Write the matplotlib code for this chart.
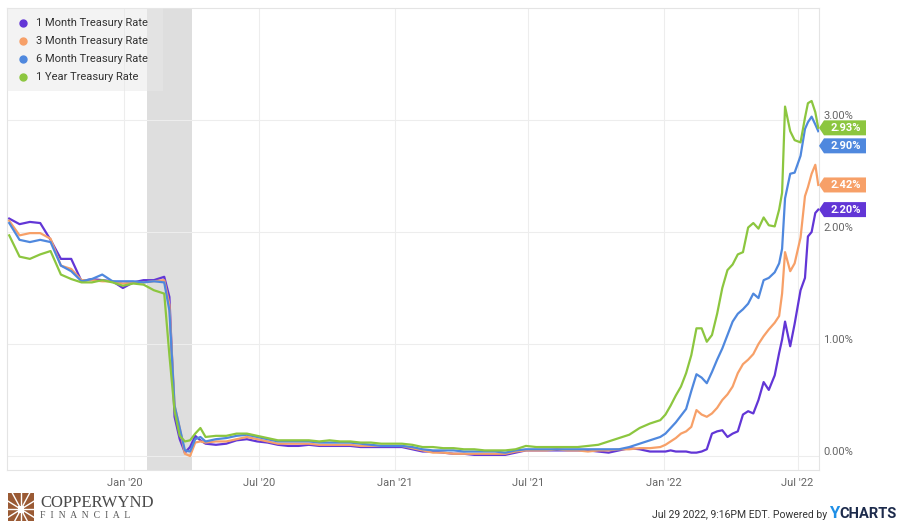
import matplotlib
matplotlib.use("Agg")
import matplotlib.pyplot as plt
from matplotlib.patches import Rectangle, Polygon
from matplotlib.transforms import blended_transform_factory, ScaledTranslation
import pandas as pd
import numpy as np

plt.rcParams['font.family'] = ['Roboto', 'DejaVu Sans']

# ---------------------------------------------------------------- data
dates = [
    "2019-07-29", "2019-08-12", "2019-08-26", "2019-09-09", "2019-09-23", "2019-10-07",
    "2019-10-21", "2019-11-04", "2019-11-18", "2019-12-02", "2019-12-16", "2019-12-30",
    "2020-01-13", "2020-01-27", "2020-02-10", "2020-02-24", "2020-03-02", "2020-03-09",
    "2020-03-16", "2020-03-23", "2020-03-30", "2020-04-06", "2020-04-13", "2020-04-20",
    "2020-05-04", "2020-05-18", "2020-06-01", "2020-06-15", "2020-06-29", "2020-07-13",
    "2020-07-27", "2020-08-10", "2020-08-24", "2020-09-07", "2020-09-21", "2020-10-05",
    "2020-10-19", "2020-11-02", "2020-11-16", "2020-11-30", "2020-12-14", "2020-12-28",
    "2021-01-11", "2021-01-25", "2021-02-08", "2021-02-22", "2021-03-08", "2021-03-22",
    "2021-04-05", "2021-04-19", "2021-05-03", "2021-05-17", "2021-05-31", "2021-06-14",
    "2021-06-28", "2021-07-12", "2021-07-26", "2021-08-09", "2021-08-23", "2021-09-06",
    "2021-09-20", "2021-10-04", "2021-10-18", "2021-11-01", "2021-11-15", "2021-11-29",
    "2021-12-13", "2021-12-27",
    "2022-01-03", "2022-01-10", "2022-01-17", "2022-01-24", "2022-01-31", "2022-02-07",
    "2022-02-14", "2022-02-21", "2022-02-28", "2022-03-07", "2022-03-14", "2022-03-21",
    "2022-03-28", "2022-04-04", "2022-04-11", "2022-04-18", "2022-04-25", "2022-05-02",
    "2022-05-09", "2022-05-16", "2022-05-23", "2022-05-31", "2022-06-06", "2022-06-10",
    "2022-06-14", "2022-06-21", "2022-06-27", "2022-07-05", "2022-07-11", "2022-07-15",
    "2022-07-20", "2022-07-25", "2022-07-29",
]

one_month = [
    2.12, 2.07, 2.09, 2.08, 1.93, 1.76, 1.76, 1.56, 1.58, 1.57, 1.56, 1.50,
    1.55, 1.57, 1.57, 1.60, 1.42, 0.35, 0.15, 0.03, 0.08, 0.18, 0.14, 0.11,
    0.10, 0.11, 0.14, 0.15, 0.13, 0.12, 0.10, 0.09, 0.09, 0.10, 0.09, 0.09,
    0.09, 0.09, 0.08, 0.08, 0.08, 0.08,
    0.08, 0.06, 0.04, 0.04, 0.03, 0.02, 0.02, 0.01, 0.01, 0.01, 0.01, 0.03,
    0.05, 0.05, 0.05, 0.05, 0.05, 0.05, 0.05, 0.04, 0.03, 0.05, 0.07, 0.06,
    0.04, 0.04,
    0.04, 0.05, 0.04, 0.04, 0.04, 0.03, 0.03, 0.04, 0.06, 0.20, 0.22, 0.23,
    0.17, 0.20, 0.22, 0.37, 0.40, 0.38, 0.50, 0.66, 0.59, 0.72, 0.92, 1.04,
    1.20, 0.98, 1.18, 1.48, 1.59, 1.96, 2.00, 2.17, 2.20,
]

three_month = [
    2.10, 1.97, 1.99, 1.99, 1.94, 1.70, 1.67, 1.57, 1.57, 1.56, 1.56, 1.54,
    1.55, 1.55, 1.56, 1.57, 1.35, 0.45, 0.25, 0.02, 0.00, 0.12, 0.13, 0.12,
    0.13, 0.13, 0.15, 0.17, 0.15, 0.13, 0.11, 0.11, 0.11, 0.11, 0.10, 0.10,
    0.10, 0.10, 0.09, 0.09, 0.09, 0.09,
    0.09, 0.07, 0.05, 0.03, 0.03, 0.02, 0.02, 0.02, 0.02, 0.02, 0.02, 0.04,
    0.05, 0.05, 0.05, 0.06, 0.05, 0.05, 0.04, 0.05, 0.05, 0.06, 0.06, 0.07,
    0.07, 0.08,
    0.10, 0.13, 0.16, 0.20, 0.22, 0.26, 0.41, 0.37, 0.35, 0.38, 0.43, 0.50,
    0.55, 0.62, 0.74, 0.82, 0.86, 0.91, 1.00, 1.07, 1.13, 1.19, 1.25, 1.45,
    1.82, 1.65, 1.72, 1.95, 2.32, 2.40, 2.52, 2.60, 2.42,
]

six_month = [
    2.08, 1.93, 1.91, 1.93, 1.91, 1.70, 1.65, 1.56, 1.58, 1.62, 1.56, 1.56,
    1.56, 1.55, 1.56, 1.55, 1.30, 0.45, 0.25, 0.05, 0.04, 0.15, 0.17, 0.13,
    0.15, 0.16, 0.18, 0.19, 0.17, 0.15, 0.13, 0.13, 0.13, 0.13, 0.12, 0.12,
    0.12, 0.12, 0.11, 0.10, 0.09, 0.09,
    0.09, 0.08, 0.06, 0.05, 0.05, 0.05, 0.04, 0.04, 0.04, 0.04, 0.03, 0.05,
    0.06, 0.06, 0.06, 0.06, 0.06, 0.06, 0.06, 0.06, 0.06, 0.06, 0.08, 0.11,
    0.14, 0.17,
    0.20, 0.25, 0.30, 0.36, 0.42, 0.58, 0.73, 0.70, 0.65, 0.75, 0.86, 0.96,
    1.08, 1.20, 1.27, 1.31, 1.36, 1.45, 1.41, 1.57, 1.59, 1.64, 1.72, 1.85,
    2.30, 2.52, 2.53, 2.68, 2.92, 2.98, 3.03, 2.96, 2.90,
]

one_year = [
    1.97, 1.78, 1.76, 1.80, 1.83, 1.62, 1.58, 1.55, 1.55, 1.57, 1.55, 1.52,
    1.54, 1.53, 1.48, 1.45, 0.90, 0.40, 0.18, 0.13, 0.14, 0.20, 0.25, 0.17,
    0.18, 0.18, 0.20, 0.20, 0.18, 0.16, 0.14, 0.14, 0.14, 0.14, 0.13, 0.14,
    0.13, 0.13, 0.12, 0.12, 0.11, 0.11,
    0.11, 0.10, 0.08, 0.08, 0.07, 0.07, 0.06, 0.06, 0.05, 0.05, 0.05, 0.06,
    0.09, 0.08, 0.08, 0.08, 0.08, 0.08, 0.09, 0.10, 0.13, 0.16, 0.19, 0.25,
    0.29, 0.32,
    0.37, 0.45, 0.54, 0.62, 0.74, 0.90, 1.14, 1.14, 1.02, 1.08, 1.27, 1.50,
    1.66, 1.71, 1.80, 1.82, 2.04, 2.08, 2.03, 2.13, 2.06, 2.05, 2.20, 2.35,
    3.12, 2.90, 2.82, 2.80, 3.02, 3.15, 3.17, 3.07, 2.93,
]

series_names = ["1 Month Treasury Rate", "3 Month Treasury Rate",
                "6 Month Treasury Rate", "1 Year Treasury Rate"]
series_values = [one_month, three_month, six_month, one_year]
series_colors = ["#6236d6", "#f7a068", "#4f88de", "#8cc63f"]

tick_dates = ["2020-01-01", "2020-07-01", "2021-01-01",
              "2021-07-01", "2022-01-01", "2022-07-01"]
tick_labels = ["Jan '20", "Jul '20", "Jan '21", "Jul '21", "Jan '22", "Jul '22"]
y_ticks = [0, 1, 2, 3]
y_tick_labels = ["0.00%", "1.00%", "2.00%", "3.00%"]

recession = ("2020-02-01", "2020-04-01")

# ---------------------------------------------------------------- figure
W, H = 908, 521
fig = plt.figure(figsize=(W / 100, H / 100), dpi=100)
fig.patch.set_facecolor("white")
L, R, T, B = 7, 819, 8, 470
ax = fig.add_axes([L / W, 1 - B / H, (R - L) / W, (B - T) / H])

x = pd.to_datetime(dates)
for name, vals, col in zip(series_names, series_values, series_colors):
    ax.plot(x, vals, color=col, lw=1.6, label=name, zorder=3,
            solid_joinstyle="round")

ax.axvspan(pd.Timestamp(recession[0]), pd.Timestamp(recession[1]),
           color="#dedede", lw=0, zorder=0.5)

ax.set_xlim(pd.Timestamp("2019-07-26"), pd.Timestamp("2022-07-30"))
ax.set_ylim(-0.125, 4.0)

ax.set_xticks(pd.to_datetime(tick_dates))
ax.set_xticklabels(tick_labels)
ax.set_yticks(y_ticks)
ax.set_yticklabels(y_tick_labels)
ax.yaxis.tick_right()
ax.tick_params(axis="x", length=0, pad=6, labelsize=8, labelcolor="#666666")
ax.tick_params(axis="y", length=0, pad=3, labelsize=8, labelcolor="#666666")
for lab in ax.get_yticklabels():
    lab.set_transform(lab.get_transform() + ScaledTranslation(0, 5 / 100, fig.dpi_scale_trans))

ax.grid(True, color="#ededed", lw=0.8, zorder=0)
ax.set_axisbelow(True)
for s in ax.spines.values():
    s.set_color("#e4e4e4")
    s.set_linewidth(0.8)

# legend panel
px_w = (R - L)
px_h = (B - T)
box_w = (163 - L) / px_w
box_h = (91 - T) / px_h
ax.add_patch(Rectangle((0, 1 - box_h), box_w, box_h, transform=ax.transAxes,
                       facecolor="#e9e9e9", alpha=0.5, lw=0, zorder=4))
for i, (name, col) in enumerate(zip(series_names, series_colors)):
    yy = 1 - (22.7 + i * 18.2 - T) / px_h
    ax.plot([(22.5 - L) / px_w], [yy], "o", color=col, ms=5, transform=ax.transAxes,
            clip_on=False, zorder=5)
    ax.text((36 - L) / px_w, yy, name, transform=ax.transAxes, fontsize=8,
            color="#333333", va="center", ha="left", zorder=5)

# last-value tags on the right
tr = blended_transform_factory(ax.transAxes, ax.transData)
unit = 4.125 / px_h          # data units per pixel
half = 7.5 * unit
tip = 5 / px_w
right = 47 / px_w
order = sorted(range(4), key=lambda k: -series_values[k][-1])
placed = []
for k in order:
    v = series_values[k][-1]
    yv = v if not placed else min(v, placed[-1] - 18 * unit)
    placed.append(yv)
    poly = Polygon([(1.0, yv), (1.0 + tip, yv + half), (1.0 + right, yv + half),
                    (1.0 + right, yv - half), (1.0 + tip, yv - half)],
                   closed=True, transform=tr, facecolor=series_colors[k],
                   edgecolor="none", clip_on=False, zorder=6)
    ax.add_patch(poly)
    ax.text(1.0 + (tip + right) / 2 + 0.5 / px_w, yv, f"{v:.2f}%", transform=tr,
            fontsize=8, fontweight="bold", color="white", ha="center",
            va="center", zorder=7, clip_on=False)

# footer: brand block on the left
icon = fig.add_axes([8 / W, 0, 26 / W, 28 / H])
icon.set_xlim(0, 1)
icon.set_ylim(0, 1)
icon.axis("off")
icon.add_patch(Rectangle((0, 0), 1, 1, facecolor="#9a5a34", lw=0))
cx, cy = 0.5, 0.42
for ang in np.arange(0, 360, 30):
    a = np.deg2rad(ang)
    icon.plot([cx, cx + 0.9 * np.cos(a)], [cy, cy + 0.9 * np.sin(a)],
              color="white", lw=1.0)
icon.add_patch(Rectangle((cx - 0.12, cy - 0.12), 0.24, 0.24, facecolor="white", lw=0))

fig.text(40 / W, 1 - 503 / H, "COPPERWYND", family="Liberation Serif",
         fontsize=12, color="#4a4a4a", va="center", ha="left")
fig.text(40 / W, 1 - 515.5 / H, "F  I  N  A  N  C  I  A  L", family="Liberation Serif",
         fontsize=7, color="#5a5a5a", va="center", ha="left")

# footer: timestamp and provider
fig.canvas.draw()
rend = fig.canvas.get_renderer()
t_charts = fig.text(897 / W, 1 - 514 / H, "CHARTS", fontsize=10.5, fontweight="bold",
                    color="#1d2b4c", ha="right", va="center")
bb = t_charts.get_window_extent(rend)
t_y = fig.text(bb.x0 / W, 1 - 514 / H, "Y", fontsize=12, fontweight="bold",
               color="#1f8fe6", ha="right", va="center")
bb2 = t_y.get_window_extent(rend)
fig.text((bb2.x0 - 2) / W, 1 - 515 / H, "Jul 29 2022, 9:16PM EDT. Powered by",
         fontsize=7.5, color="#333333", ha="right", va="center")

fig.savefig("out.png", dpi=100, facecolor="white")
